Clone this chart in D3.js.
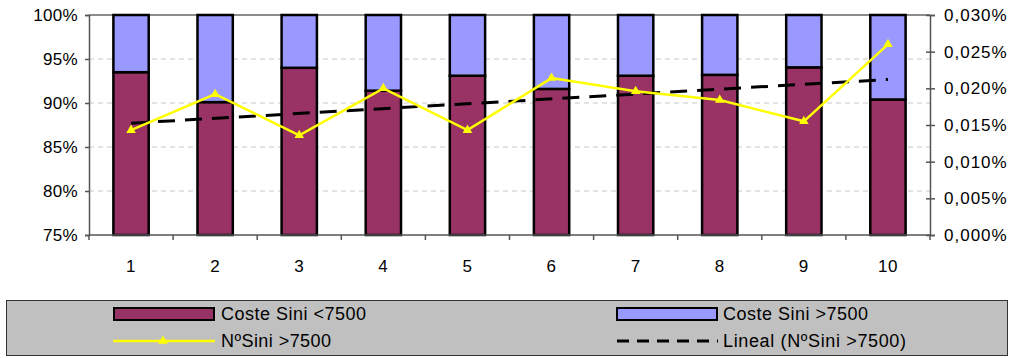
<!DOCTYPE html>
<html>
<head>
<meta charset="utf-8">
<script src="https://cdn.jsdelivr.net/npm/d3@7"></script>
<style>
  html, body { margin: 0; padding: 0; background: #ffffff; }
  svg { display: block; }
  text { font-family: "Liberation Sans", Arial, sans-serif; fill: #000; }
</style>
</head>
<body>
<svg id="chart" width="1011" height="358"></svg>
<script>
// Categories (periods) and series
const categories = [1, 2, 3, 4, 5, 6, 7, 8, 9, 10];
// Share of claim cost below / above 7500 (percent, stacked to 100)
const costeMenor = [93.5, 90.1, 94.0, 91.4, 93.1, 91.6, 93.1, 93.2, 94.05, 90.4];
const costeMayor = [6.5, 9.9, 6.0, 8.6, 6.9, 8.4, 6.9, 6.8, 5.95, 9.6];
// Number of claims above 7500 (percent, right axis)
const numSini = [0.0143, 0.0192, 0.0136, 0.0200, 0.0143, 0.0214, 0.0196, 0.0184, 0.0155, 0.0260];

const leftTicks = [75, 80, 85, 90, 95, 100];
const rightTicks = [0, 0.005, 0.010, 0.015, 0.020, 0.025, 0.030];

const legendLabels = ["Coste Sini <7500", "Coste Sini >7500", "NºSini >7500", "Lineal (NºSini >7500)"];

const colMenor = "#993366";
const colMayor = "#9999ff";
const colLine = "#ffff00";

const svg = d3.select("#chart");

const plot = { left: 89, right: 930, top: 15, bottom: 235 };

const x = d3.scaleBand()
  .domain(categories)
  .range([plot.left, plot.right])
  .paddingInner(0.58)
  .paddingOuter(0.29);

const yL = d3.scaleLinear().domain([75, 100]).range([plot.bottom, plot.top]);
const yR = d3.scaleLinear().domain([0, 0.030]).range([plot.bottom, plot.top]);

// Dashed gridlines
svg.append("g")
  .selectAll("line")
  .data(leftTicks.filter(t => t > 75 && t < 100))
  .join("line")
  .attr("x1", plot.left).attr("x2", plot.right)
  .attr("y1", d => yL(d)).attr("y2", d => yL(d))
  .attr("stroke", "#c8c8c8")
  .attr("stroke-width", 1)
  .attr("stroke-dasharray", "5,4");

// Top border of the plot area
svg.append("line")
  .attr("x1", plot.left).attr("x2", plot.right)
  .attr("y1", plot.top).attr("y2", plot.top)
  .attr("stroke", "#8c8c8c").attr("stroke-width", 2);

// Stacked bars
const bars = svg.append("g");
bars.selectAll("rect.menor")
  .data(categories)
  .join("rect")
  .attr("class", "menor")
  .attr("x", d => x(d))
  .attr("width", x.bandwidth())
  .attr("y", (d, i) => yL(costeMenor[i]))
  .attr("height", (d, i) => yL(75) - yL(costeMenor[i]))
  .attr("fill", colMenor)
  .attr("stroke", "#000").attr("stroke-width", 2.5);

bars.selectAll("rect.mayor")
  .data(categories)
  .join("rect")
  .attr("class", "mayor")
  .attr("x", d => x(d))
  .attr("width", x.bandwidth())
  .attr("y", (d, i) => yL(costeMenor[i] + costeMayor[i]))
  .attr("height", (d, i) => yL(costeMenor[i]) - yL(costeMenor[i] + costeMayor[i]))
  .attr("fill", colMayor)
  .attr("stroke", "#000").attr("stroke-width", 2.5);

// Left axis
const axL = svg.append("g")
  .attr("transform", `translate(${plot.left},0)`)
  .call(d3.axisLeft(yL).tickValues(leftTicks).tickFormat(d => d + "%").tickSize(4).tickPadding(7));
axL.select(".domain").attr("stroke", "#555").attr("stroke-width", 1.5);
axL.selectAll(".tick line").attr("stroke", "#555").attr("stroke-width", 1.5);
axL.selectAll("text").attr("font-size", 17).attr("letter-spacing", "0.3px")
  .attr("font-family", "Liberation Sans, Arial, sans-serif").attr("fill", "#000");

// Right axis (ticks cross the axis line)
const fmtR = v => d3.format(".3f")(v).replace(".", ",") + "%";
const axR = svg.append("g")
  .attr("transform", `translate(${plot.right},0)`)
  .call(d3.axisRight(yR).tickValues(rightTicks).tickFormat(fmtR).tickSize(5).tickPadding(9));
axR.select(".domain").attr("stroke", "#555").attr("stroke-width", 1.5);
axR.selectAll(".tick line").attr("x1", -4).attr("stroke", "#555").attr("stroke-width", 1.5);
axR.selectAll("text").attr("font-size", 17).attr("letter-spacing", "1px")
  .attr("font-family", "Liberation Sans, Arial, sans-serif").attr("fill", "#000");

// Bottom axis with ticks between categories
const step = x.step();
const boundaries = d3.range(categories.length + 1).map(k => plot.left + k * step);
const axB = svg.append("g");
axB.append("line")
  .attr("x1", plot.left).attr("x2", plot.right)
  .attr("y1", plot.bottom).attr("y2", plot.bottom)
  .attr("stroke", "#555").attr("stroke-width", 1.5);
axB.selectAll("line.tk")
  .data(boundaries)
  .join("line")
  .attr("class", "tk")
  .attr("x1", d => d).attr("x2", d => d)
  .attr("y1", plot.bottom).attr("y2", plot.bottom + 5)
  .attr("stroke", "#555").attr("stroke-width", 1.5);
axB.selectAll("text")
  .data(categories)
  .join("text")
  .attr("x", d => x(d) + x.bandwidth() / 2)
  .attr("y", 272)
  .attr("text-anchor", "middle")
  .attr("font-size", 17)
  .attr("letter-spacing", "0.5px")
  .text(d => d);

// Linear trendline (least squares over the claim counts)
const mx = d3.mean(categories);
const my = d3.mean(numSini);
const slope = d3.sum(categories, (c, i) => (c - mx) * (numSini[i] - my)) /
              d3.sum(categories, c => (c - mx) * (c - mx));
const icpt = my - slope * mx;
const cx = d => x(d) + x.bandwidth() / 2;
svg.append("line")
  .attr("x1", cx(categories[0]))
  .attr("x2", cx(categories[categories.length - 1]))
  .attr("y1", yR(icpt + slope * categories[0]))
  .attr("y2", yR(icpt + slope * categories[categories.length - 1]))
  .attr("stroke", "#000")
  .attr("stroke-width", 3)
  .attr("stroke-dasharray", "17,10");

// Claim count line with triangle markers
const line = d3.line()
  .x((d, i) => cx(categories[i]))
  .y(d => yR(d));
svg.append("path")
  .datum(numSini)
  .attr("d", line)
  .attr("fill", "none")
  .attr("stroke", colLine)
  .attr("stroke-width", 2.5);

const tri = d3.symbol().type(d3.symbolTriangle).size(40);
svg.append("g")
  .selectAll("path")
  .data(numSini)
  .join("path")
  .attr("d", tri)
  .attr("transform", (d, i) => `translate(${cx(categories[i])},${yR(d)})`)
  .attr("fill", colLine);

// Legend
const lg = svg.append("g");
lg.append("rect")
  .attr("x", 6.5).attr("y", 300.5)
  .attr("width", 1001).attr("height", 55)
  .attr("fill", "#c0c0c0")
  .attr("stroke", "#333").attr("stroke-width", 1);

const legendText = (tx, ty, label, w) => {
  lg.append("text")
    .attr("x", tx).attr("y", ty)
    .attr("dy", "0.35em")
    .attr("font-size", 18)
    .attr("textLength", w)
    .attr("lengthAdjust", "spacing")
    .text(label);
};

// Row 1: bar swatches
lg.append("rect").attr("x", 114).attr("y", 308).attr("width", 100).attr("height", 12)
  .attr("fill", colMenor).attr("stroke", "#000").attr("stroke-width", 2);
legendText(221, 314, legendLabels[0], 145);
lg.append("rect").attr("x", 617).attr("y", 308).attr("width", 100).attr("height", 12)
  .attr("fill", colMayor).attr("stroke", "#000").attr("stroke-width", 2);
legendText(723, 314, legendLabels[1], 145);

// Row 2: line swatches
lg.append("line").attr("x1", 113).attr("x2", 215).attr("y1", 341).attr("y2", 341)
  .attr("stroke", colLine).attr("stroke-width", 2.5);
lg.append("path").attr("d", tri).attr("transform", "translate(163,341)").attr("fill", colLine);
legendText(221, 341, legendLabels[2], 110);
lg.append("line").attr("x1", 617).attr("x2", 718).attr("y1", 341).attr("y2", 341)
  .attr("stroke", "#000").attr("stroke-width", 3).attr("stroke-dasharray", "12,8");
legendText(723, 341, legendLabels[3], 183);
</script>
</body>
</html>
